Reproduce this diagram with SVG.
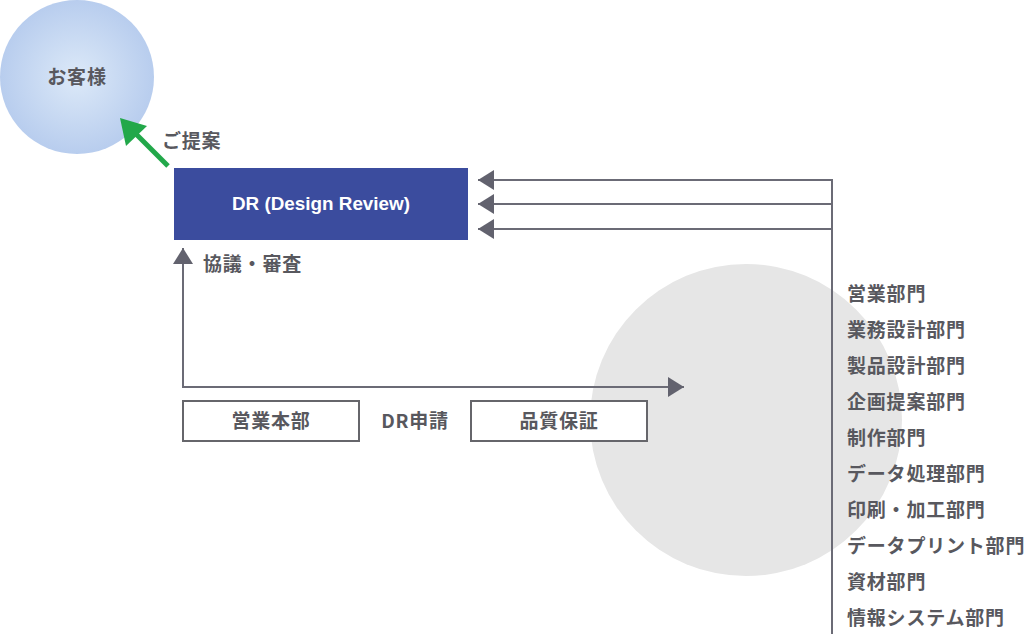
<svg xmlns="http://www.w3.org/2000/svg" width="1026" height="634" viewBox="0 0 1026 634">
<defs>
<radialGradient id="gBlue" cx="0.5" cy="0.5" r="0.5">
<stop offset="0" stop-color="#dce9f8"/>
<stop offset="1" stop-color="#b8cdee"/>
</radialGradient>
<marker id="ahGray" viewBox="0 0 16 20" refX="16" refY="10" markerWidth="16" markerHeight="20" markerUnits="userSpaceOnUse" orient="auto">
<path d="M0,0 L16,10 L0,20 Z" fill="#62626e"/>
</marker>
</defs>
<style>
.t{font-family:"Noto Sans CJK JP","Noto Sans",sans-serif;font-weight:700;fill:#58585e;font-size:19px;letter-spacing:0.8px}
.ln{fill:none;stroke:#6b6b76;stroke-width:2}
.box{fill:#fff;stroke:#66666b;stroke-width:2}
</style>
<rect width="1026" height="634" fill="#fff"/>
<g id="bg-circle"><circle cx="746" cy="420" r="156" fill="#e6e6e6"/></g>
<g id="customer">
<circle cx="77" cy="77" r="77" fill="url(#gBlue)"/>
<text class="t" x="77" y="84" text-anchor="middle">お客様</text>
</g>
<g id="dr">
<rect x="174" y="168" width="294" height="72" fill="#3b4c9e"/>
<text x="321" y="210" text-anchor="middle" font-family="'Liberation Sans',Arial,sans-serif" font-weight="700" font-size="18.5" fill="#ffffff" textLength="178" lengthAdjust="spacingAndGlyphs">DR (Design Review)</text>
</g>
<g id="eigyo-honbu">
<rect class="box" x="183" y="401" width="176" height="40"/>
<text class="t" x="271" y="428" text-anchor="middle">営業本部</text>
</g>
<g id="hinshitsu">
<rect class="box" x="471" y="401" width="176" height="40"/>
<text class="t" x="559" y="428" text-anchor="middle">品質保証</text>
</g>
<g id="connectors">
<line x1="168" y1="166" x2="134" y2="132" stroke="#22a84a" stroke-width="5"/>
<polygon points="120,118 126,146 147,126" fill="#22a84a"/>
<path class="ln" d="M832,180 H478" marker-end="url(#ahGray)"/>
<path class="ln" d="M832,204 H478" marker-end="url(#ahGray)"/>
<path class="ln" d="M832,229 H478" marker-end="url(#ahGray)"/>
<path class="ln" d="M832,179 V634"/>
<path class="ln" d="M183,388 V248" marker-end="url(#ahGray)"/>
<path class="ln" d="M182,387 H684" marker-end="url(#ahGray)"/>
</g>
<g id="labels">
<text class="t" x="162" y="148">ご提案</text>
<text class="t" x="203" y="271">協議・審査</text>
<text class="t" x="415" y="428" text-anchor="middle">DR申請</text>
</g>
<g id="departments">
<text class="t" x="847" y="301">営業部門</text>
<text class="t" x="847" y="337">業務設計部門</text>
<text class="t" x="847" y="373">製品設計部門</text>
<text class="t" x="847" y="409">企画提案部門</text>
<text class="t" x="847" y="445">制作部門</text>
<text class="t" x="847" y="481">データ処理部門</text>
<text class="t" x="847" y="517">印刷・加工部門</text>
<text class="t" x="847" y="553">データプリント部門</text>
<text class="t" x="847" y="589">資材部門</text>
<text class="t" x="847" y="625">情報システム部門</text>
</g>
</svg>
